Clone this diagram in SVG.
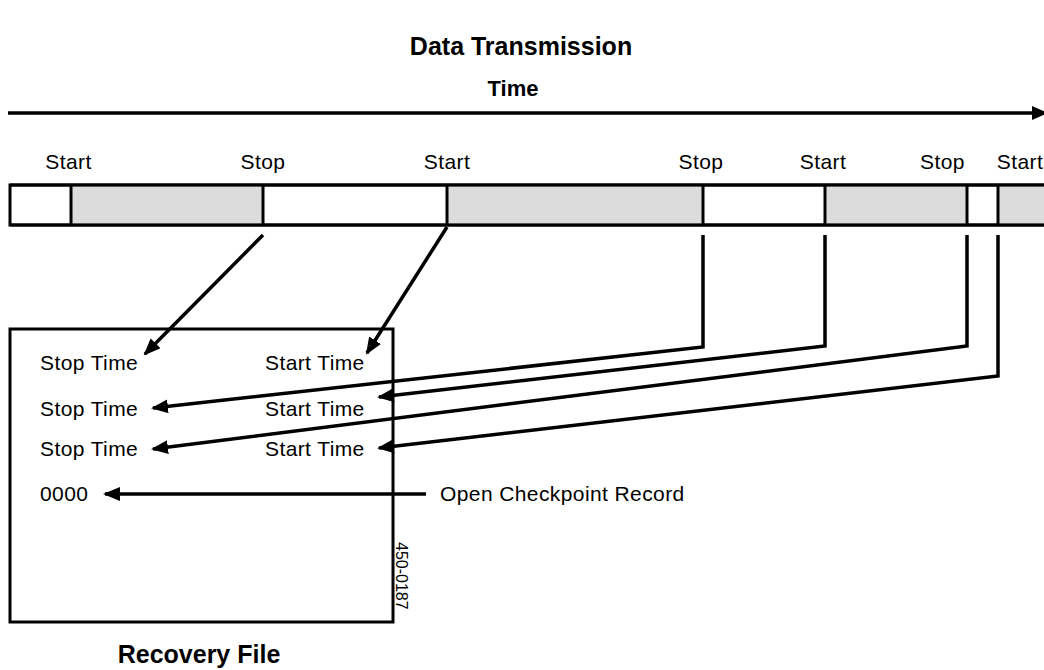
<svg xmlns="http://www.w3.org/2000/svg" width="1044" height="670" viewBox="0 0 1044 670">
  <style>
    text { font-family: "Liberation Sans", Arial, sans-serif; fill: #000; }
    .lbl { font-size: 21px; letter-spacing: 0.4px; }
    .hdr { font-size: 25px; font-weight: bold; }
    .sub { font-size: 22px; font-weight: bold; }
    .tag { font-size: 16px; }
    .frame { fill: #fff; stroke: #000; stroke-width: 3; }
    .busy { fill: #dcdcdc; stroke: none; }
    .tick { stroke: #000; stroke-width: 3; fill: none; }
    .wire { stroke: #000; stroke-width: 3.5; fill: none; stroke-linejoin: miter; }
  </style>
  <defs>
    <marker id="head" markerUnits="userSpaceOnUse" markerWidth="18" markerHeight="14" refX="15" refY="7" orient="auto">
      <path d="M0,0 L17,7 L0,14 Z" fill="#000"/>
    </marker>
  </defs>

  <rect width="1044" height="670" fill="#fff"/>

  <!-- headings -->
  <text class="hdr" x="521" y="55" text-anchor="middle">Data Transmission</text>
  <text class="sub" x="513" y="96" text-anchor="middle">Time</text>

  <!-- time axis -->
  <g id="time-axis">
    <line x1="8" y1="113" x2="1034" y2="113" stroke="#000" stroke-width="3.5"/>
    <path d="M1032,106 L1048,113 L1032,120 Z" fill="#000"/>
  </g>

  <!-- transmission timeline bar -->
  <g id="timeline">
    <rect class="frame" x="10" y="185" width="1040" height="40"/>
    <rect class="busy" x="71" y="186.5" width="192" height="37"/>
    <rect class="busy" x="447" y="186.5" width="256" height="37"/>
    <rect class="busy" x="825" y="186.5" width="142" height="37"/>
    <rect class="busy" x="998" y="186.5" width="50" height="37"/>
    <line class="tick" x1="71" y1="185" x2="71" y2="225"/>
    <line class="tick" x1="263" y1="185" x2="263" y2="225"/>
    <line class="tick" x1="447" y1="185" x2="447" y2="225"/>
    <line class="tick" x1="703" y1="185" x2="703" y2="225"/>
    <line class="tick" x1="825" y1="185" x2="825" y2="225"/>
    <line class="tick" x1="967" y1="185" x2="967" y2="225"/>
    <line class="tick" x1="998" y1="185" x2="998" y2="225"/>
    <line x1="10" y1="185" x2="1044" y2="185" stroke="#000" stroke-width="3"/>
    <line x1="10" y1="225" x2="1044" y2="225" stroke="#000" stroke-width="3"/>
    <text class="lbl" x="68.5" y="169" text-anchor="middle">Start</text>
    <text class="lbl" x="263" y="169" text-anchor="middle">Stop</text>
    <text class="lbl" x="447" y="169" text-anchor="middle">Start</text>
    <text class="lbl" x="701" y="169" text-anchor="middle">Stop</text>
    <text class="lbl" x="823" y="169" text-anchor="middle">Start</text>
    <text class="lbl" x="942.5" y="169" text-anchor="middle">Stop</text>
    <text class="lbl" x="1020" y="169" text-anchor="middle">Start</text>
  </g>

  <!-- recovery file -->
  <g id="recovery-file">
    <rect class="frame" x="10" y="329" width="383" height="293"/>
    <text class="lbl" x="40" y="370">Stop Time</text>
    <text class="lbl" x="265" y="370">Start Time</text>
    <text class="lbl" x="40" y="416">Stop Time</text>
    <text class="lbl" x="265" y="416">Start Time</text>
    <text class="lbl" x="40" y="456">Stop Time</text>
    <text class="lbl" x="265" y="456">Start Time</text>
    <text class="lbl" x="40" y="501">0000</text>
    <text class="tag" transform="translate(396,542) rotate(90)">450-0187</text>
    <text class="hdr" x="199" y="663" text-anchor="middle">Recovery File</text>
  </g>

  <g id="checkpoint-label">
    <text class="lbl" x="440" y="501">Open Checkpoint Record</text>
  </g>

  <!-- connectors from the timeline into the recovery file -->
  <g id="connectors">
    <path class="wire" d="M263,235 L145,354" marker-end="url(#head)"/>
    <path class="wire" d="M447,227 L367,353" marker-end="url(#head)"/>
    <path class="wire" d="M703,235 V347 L153,408" marker-end="url(#head)"/>
    <path class="wire" d="M825,235 V346 L379,397" marker-end="url(#head)"/>
    <path class="wire" d="M967,235 V346 L153,449" marker-end="url(#head)"/>
    <path class="wire" d="M998,235 V376 L379,448" marker-end="url(#head)"/>
    <path class="wire" d="M426,494 L105,494" marker-end="url(#head)"/>
  </g>
</svg>
